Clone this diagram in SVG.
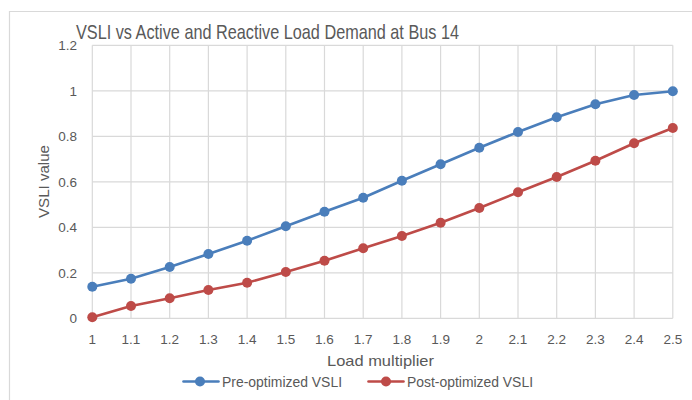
<svg xmlns="http://www.w3.org/2000/svg" width="692" height="400" viewBox="0 0 692 400">
<style>
.grid{stroke:#D9D9D9;stroke-width:1.2;fill:none}
.tick{font-family:"Liberation Sans",Arial,sans-serif;font-size:13.5px;fill:#595959}
.ax{font-family:"Liberation Sans",Arial,sans-serif;font-size:14.5px;fill:#595959}
.title{font-family:"Liberation Sans",Arial,sans-serif;font-size:21px;fill:#595959}
.leg{font-family:"Liberation Sans",Arial,sans-serif;font-size:14px;fill:#595959}
.blue{stroke:#4A7EBB;stroke-width:2.6;fill:none;stroke-linejoin:round;stroke-linecap:round}
.red{stroke:#BE4B48;stroke-width:2.6;fill:none;stroke-linejoin:round;stroke-linecap:round}
.bm{fill:#4A7EBB}
.rm{fill:#BE4B48}
</style>
<rect x="0" y="0" width="692" height="400" fill="#FFFFFF"/>
<path d="M9.5 410 V11.5 H700" class="grid"/>
<g id="title"><text class="title" x="76" y="38.5" textLength="383" lengthAdjust="spacingAndGlyphs">VSLI vs Active and Reactive Load Demand at Bus 14</text></g>
<g id="gridlines">
<path class="grid" d="M92.3 45.3 H672.8 M92.3 90.8 H672.8 M92.3 136.3 H672.8 M92.3 181.8 H672.8 M92.3 227.3 H672.8 M92.3 272.8 H672.8 M92.3 318.3 H672.8"/>
<path class="grid" d="M92.3 45.3 V318.3 M131 45.3 V318.3 M169.7 45.3 V318.3 M208.4 45.3 V318.3 M247.1 45.3 V318.3 M285.8 45.3 V318.3 M324.5 45.3 V318.3 M363.2 45.3 V318.3 M401.9 45.3 V318.3 M440.6 45.3 V318.3 M479.3 45.3 V318.3 M518 45.3 V318.3 M556.7 45.3 V318.3 M595.4 45.3 V318.3 M634.1 45.3 V318.3 M672.8 45.3 V318.3"/>
</g>
<g id="y-axis" class="tick" text-anchor="end">
<text x="77" y="50">1.2</text>
<text x="77" y="95.5">1</text>
<text x="77" y="141">0.8</text>
<text x="77" y="186.5">0.6</text>
<text x="77" y="232">0.4</text>
<text x="77" y="277.5">0.2</text>
<text x="77" y="323">0</text>
</g>
<g id="x-axis" class="tick" text-anchor="middle">
<text x="92.3" y="343.5">1</text>
<text x="131" y="343.5">1.1</text>
<text x="169.7" y="343.5">1.2</text>
<text x="208.4" y="343.5">1.3</text>
<text x="247.1" y="343.5">1.4</text>
<text x="285.8" y="343.5">1.5</text>
<text x="324.5" y="343.5">1.6</text>
<text x="363.2" y="343.5">1.7</text>
<text x="401.9" y="343.5">1.8</text>
<text x="440.6" y="343.5">1.9</text>
<text x="479.3" y="343.5">2</text>
<text x="518" y="343.5">2.1</text>
<text x="556.7" y="343.5">2.2</text>
<text x="595.4" y="343.5">2.3</text>
<text x="634.1" y="343.5">2.4</text>
<text x="672.8" y="343.5">2.5</text>
</g>
<g id="x-title"><text class="ax" x="327" y="366" textLength="107" lengthAdjust="spacingAndGlyphs">Load multiplier</text></g>
<g id="y-title"><text class="ax" transform="translate(49 218) rotate(-90)" x="0" y="0" textLength="73" lengthAdjust="spacingAndGlyphs">VSLI value</text></g>
<g id="series-pre">
<polyline class="blue" points="92.3,286.7 131,278.7 169.7,267 208.4,254 247.1,240.7 285.8,226.3 324.5,211.7 363.2,197.7 401.9,180.7 440.6,164.3 479.3,147.7 518,132 556.7,117.3 595.4,104.3 634.1,95 672.8,91.3"/>
<g class="bm">
<circle cx="92.3" cy="286.7" r="5"/><circle cx="131" cy="278.7" r="5"/><circle cx="169.7" cy="267" r="5"/><circle cx="208.4" cy="254" r="5"/><circle cx="247.1" cy="240.7" r="5"/><circle cx="285.8" cy="226.3" r="5"/><circle cx="324.5" cy="211.7" r="5"/><circle cx="363.2" cy="197.7" r="5"/><circle cx="401.9" cy="180.7" r="5"/><circle cx="440.6" cy="164.3" r="5"/><circle cx="479.3" cy="147.7" r="5"/><circle cx="518" cy="132" r="5"/><circle cx="556.7" cy="117.3" r="5"/><circle cx="595.4" cy="104.3" r="5"/><circle cx="634.1" cy="95" r="5"/><circle cx="672.8" cy="91.3" r="5"/>
</g>
</g>
<g id="series-post">
<polyline class="red" points="92.3,317.3 131,306 169.7,298.3 208.4,290 247.1,282.7 285.8,272 324.5,260.7 363.2,248.3 401.9,236 440.6,222.7 479.3,208 518,192.3 556.7,177 595.4,160.7 634.1,143.3 672.8,128"/>
<g class="rm">
<circle cx="92.3" cy="317.3" r="5"/><circle cx="131" cy="306" r="5"/><circle cx="169.7" cy="298.3" r="5"/><circle cx="208.4" cy="290" r="5"/><circle cx="247.1" cy="282.7" r="5"/><circle cx="285.8" cy="272" r="5"/><circle cx="324.5" cy="260.7" r="5"/><circle cx="363.2" cy="248.3" r="5"/><circle cx="401.9" cy="236" r="5"/><circle cx="440.6" cy="222.7" r="5"/><circle cx="479.3" cy="208" r="5"/><circle cx="518" cy="192.3" r="5"/><circle cx="556.7" cy="177" r="5"/><circle cx="595.4" cy="160.7" r="5"/><circle cx="634.1" cy="143.3" r="5"/><circle cx="672.8" cy="128" r="5"/>
</g>
</g>
<g id="legend">
<line class="blue" x1="183.5" y1="381.5" x2="218.5" y2="381.5"/>
<circle class="bm" cx="200" cy="381.5" r="5"/>
<text class="leg" x="222" y="387" textLength="120" lengthAdjust="spacingAndGlyphs">Pre-optimized VSLI</text>
<line class="red" x1="368.5" y1="381.5" x2="403.5" y2="381.5"/>
<circle class="rm" cx="386" cy="381.5" r="5"/>
<text class="leg" x="407" y="387" textLength="126" lengthAdjust="spacingAndGlyphs">Post-optimized VSLI</text>
</g>
</svg>
